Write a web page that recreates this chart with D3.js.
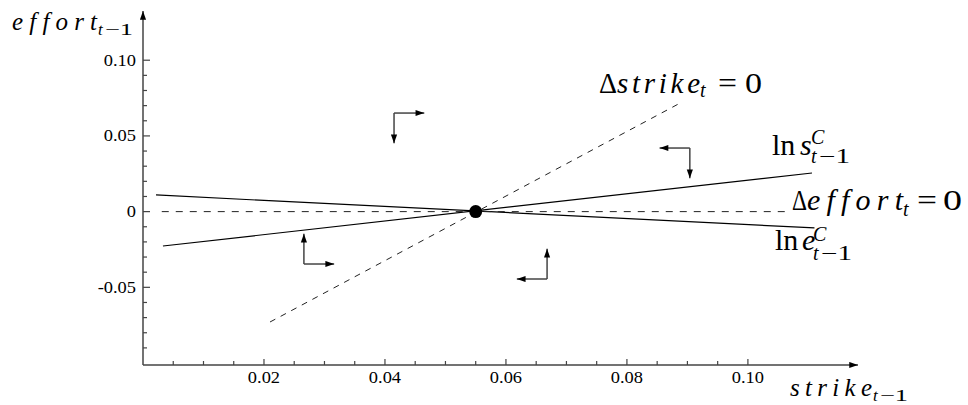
<!DOCTYPE html>
<html>
<head>
<meta charset="utf-8">
<script src="https://cdn.jsdelivr.net/npm/d3@7"></script>
<style>
  body { margin: 0; background: #fff; }
</style>
</head>
<body>
<div id="chart"></div>
<script>
const width = 968, height = 405;

// tick values and labels
const xMajor = [0.02, 0.04, 0.06, 0.08, 0.10];
const xTickLabels = ["0.02", "0.04", "0.06", "0.08", "0.10"];
const xMinor = [0.005, 0.01, 0.015, 0.025, 0.03, 0.035, 0.045, 0.05, 0.055,
  0.065, 0.07, 0.075, 0.085, 0.09, 0.095];
const yMajor = [-0.05, 0, 0.05, 0.10];
const yTickLabels = ["-0.05", "0", "0.05", "0.10"];
const yMinor = [-0.09, -0.08, -0.07, -0.06, -0.04, -0.03, -0.02, -0.01,
  0.01, 0.02, 0.03, 0.04, 0.06, 0.07, 0.08, 0.09];

// curves [strike, effort]
const lnE = [[0.00215, 0.0110], [0.111, -0.0108]];
const lnS = [[0.0033, -0.0227], [0.1106, 0.0255]];
const dEffortZero = [[0.0031, 0], [0.1064, 0]];
const dStrikeZero = [[0.021, -0.0729], [0.0888, 0.0717]];
const steadyState = [0.055, 0];

// phase arrows: corner, horizontal direction, vertical direction
const arrowCorners = [[0.0415, 0.0651], [0.0904, 0.0420], [0.0266, -0.0346], [0.0668, -0.0445]];
const arrowH = [1, -1, 1, -1];
const arrowV = [-1, -1, 1, 1];

const svg = d3.select("#chart")
  .append("svg")
  .attr("width", width)
  .attr("height", height);

const x = d3.scaleLinear().domain([0, 0.1182]).range([143, 858]);
const y = d3.scaleLinear().domain([-0.1013, 0.1325]).range([365, 11]);

const defs = svg.append("defs");
defs.append("marker")
  .attr("id", "head")
  .attr("viewBox", "0 -4 10 8")
  .attr("refX", 10).attr("refY", 0)
  .attr("markerWidth", 10).attr("markerHeight", 7)
  .attr("markerUnits", "userSpaceOnUse")
  .attr("orient", "auto")
  .append("path")
  .attr("d", "M0,-3.5L10,0L0,3.5Z")
  .attr("fill", "#000");

function txt(g, s, px, py, o) {
  const t = g.append("text")
    .attr("x", px).attr("y", py)
    .attr("font-family", "Liberation Serif")
    .attr("font-size", o.fs)
    .attr("font-style", o.it ? "italic" : "normal")
    .attr("text-anchor", o.anchor || "start")
    .attr("fill", "#000")
    .text(s);
  if (o.w) t.attr("textLength", o.w).attr("lengthAdjust", o.it ? "spacing" : "spacingAndGlyphs");
  return t;
}

// axes
const axisColor = "#444";
svg.append("line")
  .attr("x1", x(0)).attr("x2", x(0))
  .attr("y1", y(-0.1013)).attr("y2", y(0.1325))
  .attr("stroke", axisColor).attr("stroke-width", 1.5)
  .attr("marker-end", "url(#head)");
svg.append("line")
  .attr("x1", x(0)).attr("x2", x(0.1182))
  .attr("y1", y(-0.1013)).attr("y2", y(-0.1013))
  .attr("stroke", axisColor).attr("stroke-width", 1.5)
  .attr("marker-end", "url(#head)");

const ticks = svg.append("g").attr("stroke", axisColor).attr("stroke-width", 1.2);
ticks.selectAll(".ym").data(yMajor).join("line")
  .attr("x1", x(0)).attr("x2", x(0) + 7)
  .attr("y1", d => y(d)).attr("y2", d => y(d));
ticks.selectAll(".yn").data(yMinor).join("line")
  .attr("x1", x(0)).attr("x2", x(0) + 4)
  .attr("y1", d => y(d)).attr("y2", d => y(d));
ticks.selectAll(".xm").data(xMajor).join("line")
  .attr("x1", d => x(d)).attr("x2", d => x(d))
  .attr("y1", y(-0.1013)).attr("y2", y(-0.1013) - 6);
ticks.selectAll(".xn").data(xMinor).join("line")
  .attr("x1", d => x(d)).attr("x2", d => x(d))
  .attr("y1", y(-0.1013)).attr("y2", y(-0.1013) - 4);

// tick labels, widened a little like the original
const labels = svg.append("g");
function tickLabel(s, px, py, anchor) {
  const t = txt(labels, s, px, py, {fs: 16, anchor: anchor});
  const w = t.node().getComputedTextLength();
  t.attr("textLength", w * 1.15).attr("lengthAdjust", "spacingAndGlyphs");
}
yMajor.forEach((v, i) => tickLabel(yTickLabels[i], x(0) - 7, y(v) + 5.5, "end"));
xMajor.forEach((v, i) => tickLabel(xTickLabels[i], x(v), 383, "middle"));

// lines
const line = d3.line().x(d => x(d[0])).y(d => y(d[1]));
svg.append("path").attr("d", line(lnE)).attr("fill", "none").attr("stroke", "#000").attr("stroke-width", 1.2);
svg.append("path").attr("d", line(lnS)).attr("fill", "none").attr("stroke", "#000").attr("stroke-width", 1.2);
svg.append("path").attr("d", line(dEffortZero)).attr("fill", "none").attr("stroke", "#222")
  .attr("stroke-width", 1).attr("stroke-dasharray", "7,7");
svg.append("path").attr("d", line(dStrikeZero)).attr("fill", "none").attr("stroke", "#222")
  .attr("stroke-width", 1).attr("stroke-dasharray", "6,6");

svg.append("circle")
  .attr("cx", x(steadyState[0])).attr("cy", y(steadyState[1]))
  .attr("r", 6.5).attr("fill", "#000");

// phase arrows
const ag = svg.append("g").attr("stroke", "#444").attr("stroke-width", 1.5);
arrowCorners.forEach((c, i) => {
  ag.append("line")
    .attr("x1", x(c[0])).attr("y1", y(c[1]))
    .attr("x2", x(c[0] + arrowH[i] * 0.005)).attr("y2", y(c[1]))
    .attr("marker-end", "url(#head)");
  ag.append("line")
    .attr("x1", x(c[0])).attr("y1", y(c[1]))
    .attr("x2", x(c[0])).attr("y2", y(c[1] + arrowV[i] * 0.02))
    .attr("marker-end", "url(#head)");
});

// axis titles
txt(labels, "effort", 12, 30, {fs: 25, it: true, w: 85});
txt(labels, "t", 98, 35, {fs: 17, it: true});
txt(labels, "\u22121", 105, 35, {fs: 17, w: 28});

txt(labels, "strike", 790, 396, {fs: 25, it: true, w: 82});
txt(labels, "t", 873, 401, {fs: 17, it: true});
txt(labels, "\u22121", 880, 401, {fs: 17, w: 28});

// annotations
txt(labels, "\u0394", 599, 93, {fs: 29, w: 18});
txt(labels, "strike", 617, 93, {fs: 29, it: true, w: 83});
txt(labels, "t", 700, 97, {fs: 20, it: true});
txt(labels, "=", 718, 93, {fs: 29, w: 19});
txt(labels, "0", 745, 93, {fs: 29, w: 17});

txt(labels, "\u0394", 792, 210, {fs: 30, w: 15});
txt(labels, "effort", 807, 210, {fs: 30, it: true, w: 96});
txt(labels, "t", 903, 216, {fs: 20, it: true});
txt(labels, "=", 917, 210, {fs: 30, w: 20});
txt(labels, "0", 943, 210, {fs: 30, w: 19});

txt(labels, "ln", 772, 155, {fs: 30});
txt(labels, "s", 800, 155, {fs: 30, it: true});
txt(labels, "C", 811, 144, {fs: 20, it: true});
txt(labels, "t", 811, 163, {fs: 20, it: true});
txt(labels, "\u22121", 819, 163, {fs: 20, w: 31});

txt(labels, "ln", 775, 250, {fs: 30});
txt(labels, "e", 802, 250, {fs: 30, it: true});
txt(labels, "C", 813, 241, {fs: 20, it: true});
txt(labels, "t", 813, 260, {fs: 20, it: true});
txt(labels, "\u22121", 821, 260, {fs: 20, w: 31});
</script>
</body>
</html>
